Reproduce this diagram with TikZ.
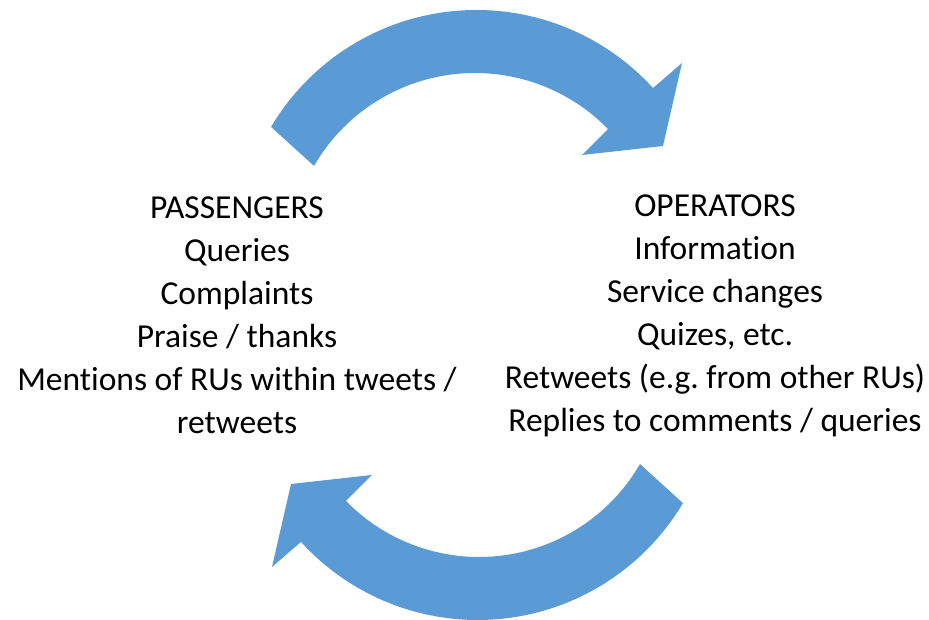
\documentclass[tikz,border=0pt]{standalone}
\usepackage{fontspec}
\setmainfont{Carlito}[Ligatures=NoCommon]
\usetikzlibrary{calc}
\definecolor{flowblue}{HTML}{5B9BD5}
\frenchspacing
\begin{document}
\begin{tikzpicture}[x=1pt,y=1pt,
  flowarrow/.style={fill=flowblue, draw=none},
  listtext/.style={align=center, font=\fontsize{33.5}{43}\selectfont, inner sep=0pt, text=black}]
\useasboundingbox (0,0) rectangle (929,620);
\fill[white] (0,0) rectangle (929,620);

% curved block arrow from passengers to operators (top)
\newcommand{\cyclearrow}{%
  \fill[flowarrow]
    ($(476.4,371.2)+(149.3:238.8)$)
      arc[start angle=149.3, end angle=42.3, radius=238.8]
    -- (682,557) -- (663,474) -- (582,465)
    -- ($(475,361.1)+(44.3:185.9)$)
      arc[start angle=44.3, end angle=150, radius=185.9]
    -- cycle;}
\cyclearrow
% the same arrow turned half round for the way back (bottom)
\begin{scope}[rotate around={180:(477,305)}]
  \cyclearrow
\end{scope}

\node[listtext] (passengers) at (237,305) {PASSENGERS\\Queries\\Complaints\\Praise / thanks\\Mentions of RUs within tweets /\\retweets};
\node[listtext] (operators) at (715,304) {OPERATORS\\Information\\Service changes\\Quizes, etc.\\Retweets (e.g. from other RUs)\\Replies to comments / queries};
\end{tikzpicture}
\end{document}
